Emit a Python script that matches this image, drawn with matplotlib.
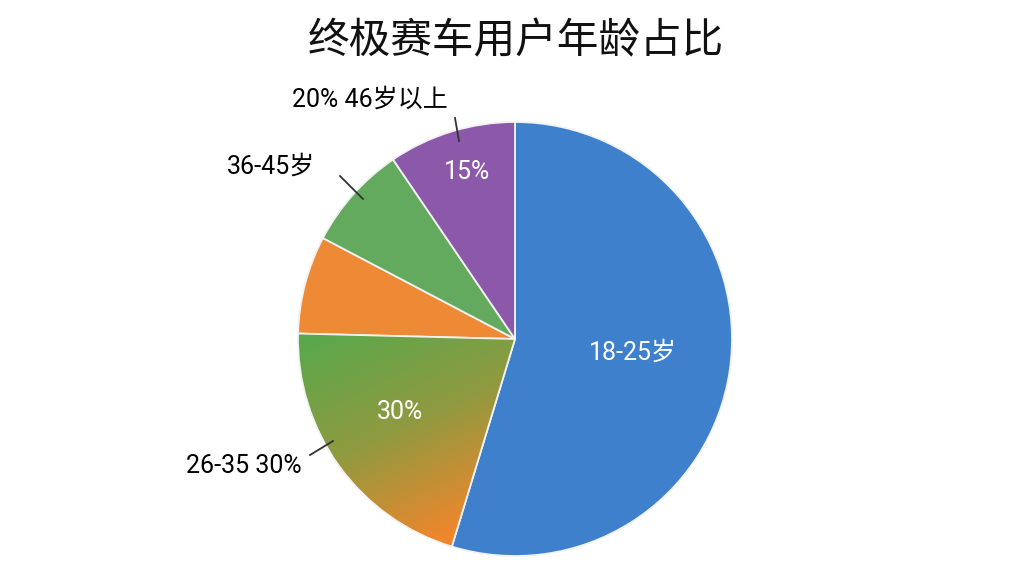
import matplotlib
matplotlib.use("Agg")
import matplotlib.pyplot as plt
import numpy as np
from matplotlib.colors import LinearSegmentedColormap

plt.rcParams["font.family"] = ["Roboto", "Noto Sans CJK SC", "DejaVu Sans"]

# data
groups = ["18-25岁", "26-35岁", "其他A", "36-45岁", "46岁以上"]
shares = [54.7, 20.7, 7.3, 7.8, 9.5]
colors = ["#3f80cc", "#7a9e48", "#ee8a35", "#64aa5e", "#8c58a9"]
inner_labels = ["18-25岁", "30%", "", "", "15%"]
outer_labels = ["", "26-35 30%", "", "36-45岁", "20% 46岁以上"]

fig = plt.figure(figsize=(10.24, 5.76), dpi=100)
ax = fig.add_axes([0, 0, 1, 1])

cx, cy, r = 515, 576 - 339, 217
wedges, _ = ax.pie(shares, colors=colors, startangle=90, counterclock=False,
                   center=(cx, cy), radius=r, frame=True,
                   wedgeprops=dict(edgecolor="#f2f2f2", linewidth=1.3))
ax.set_xlim(0, 1024)
ax.set_ylim(0, 576)
ax.set_aspect("equal")
ax.axis("off")

# gradient fill for the 26-35 slice (green -> orange)
grad = LinearSegmentedColormap.from_list("g", ["#5aa84c", "#8f9a40", "#f0862c"])
xx, yy = np.meshgrid(np.linspace(0, 1, 200), np.linspace(0, 1, 200))
t = np.clip((xx * 0.4 + yy * 0.9 - 0.05) / 1.05, 0, 1)
img = ax.imshow(t, cmap=grad, extent=(cx - r, cx, cy - r, cy + 10),
                origin="upper", zorder=1.5, aspect="auto")
img.set_clip_path(wedges[1])
wedges[1].set_facecolor("none")
wedges[1].set_zorder(2)

# labels inside slices
kw = dict(color="white", fontsize=18, ha="center", va="center", zorder=3)
ax.text(633, 576 - 353, inner_labels[0], **kw)
ax.text(400, 576 - 412, inner_labels[1], **kw)
ax.text(467, 576 - 172, inner_labels[4], **kw)

# outside labels with pointer lines
ko = dict(color="black", fontsize=18, ha="center", va="center")
ax.text(370, 576 - 100, outer_labels[4], **ko)
ax.plot([455, 459], [576 - 118, 576 - 141], color="#333333", lw=1.3)
ax.text(271, 576 - 167, outer_labels[3], **ko)
ax.plot([340, 363], [576 - 176, 576 - 199], color="#333333", lw=1.3)
ax.text(244, 576 - 466, outer_labels[1], **ko)
ax.plot([310, 333], [576 - 455, 576 - 441], color="#333333", lw=1.3)

ax.text(516, 576 - 42, "终极赛车用户年龄占比", fontsize=30, fontweight="medium",
        family=["Noto Sans CJK SC"], ha="center", va="center", color="#111111")

fig.savefig("out.png", dpi=100, facecolor="white")
